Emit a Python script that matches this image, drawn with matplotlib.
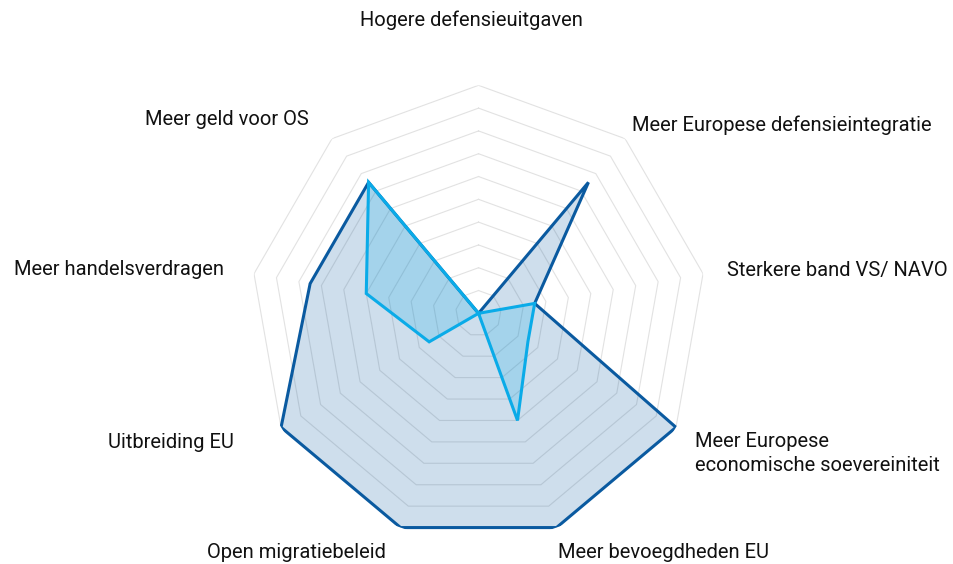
import numpy as np
import matplotlib
matplotlib.use("Agg")
import matplotlib.pyplot as plt

categories = [
    "Hogere defensieuitgaven",
    "Meer Europese defensieintegratie",
    "Sterkere band VS/ NAVO",
    "Meer Europese\neconomische soevereiniteit",
    "Meer bevoegdheden EU",
    "Open migratiebeleid",
    "Uitbreiding EU",
    "Meer handelsverdragen",
    "Meer geld voor OS",
]
series_dark = [0, 7.5, 2.5, 10, 10, 10, 10, 7.5, 7.5]
series_light = [0, 0, 2.5, 2.5, 5, 0, 2.5, 5, 7.5]
rings = list(range(1, 11))

# label placement (alignment and pixel offsets from outer vertex)
label_style = [
    ("center", "center", (-7, 65)),
    ("left", "center", (7, 13)),
    ("left", "center", (24, 3)),
    ("left", "center", (19, -26)),
    ("left", "center", (1, -25)),
    ("right", "center", (-15, -25)),
    ("right", "center", (-47, -15)),
    ("right", "center", (-30, 4)),
    ("right", "center", (-23, 19)),
]

plt.rcParams['font.family'] = ['Roboto', 'DejaVu Sans']

fig = plt.figure(figsize=(9.54, 5.64), dpi=100)
ax = fig.add_axes([0.2626, 0.0402, 0.478, 0.8085], projection='polar')
ax.set_theta_zero_location('N')
ax.set_theta_direction(-1)

n = len(categories)
theta = np.linspace(0, 2 * np.pi, n, endpoint=False)
theta_c = np.concatenate([theta, theta[:1]])

for r in rings:
    ax.plot(theta_c, [r] * (n + 1), color='#e2e2e2', lw=0.8, zorder=1)

dark = series_dark + series_dark[:1]
light = series_light + series_light[:1]

ax.fill(theta_c, dark, color='#0a5aa0', alpha=0.2, lw=0, zorder=2)
ax.fill(theta_c, light, color='#00a8e8', alpha=0.2, lw=0, zorder=3)
ax.plot(theta_c, dark, color='#0a5aa0', lw=2.2, zorder=4, solid_joinstyle='miter')
ax.plot(theta_c, light, color='#0aabe8', lw=2.2, zorder=5, solid_joinstyle='miter')

ax.set_ylim(0, 10)
ax.grid(False)
ax.set_xticks([])
ax.set_yticks([])
ax.spines['polar'].set_visible(False)
ax.patch.set_alpha(0)

for t, lab, (ha, va, off) in zip(theta, categories, label_style):
    ax.annotate(lab, xy=(t, 10), xytext=off, textcoords='offset pixels',
                ha=ha, va=va, fontsize=14.5, color='#111111',
                linespacing=1.3, annotation_clip=False)

fig.savefig('out.png', dpi=100)
